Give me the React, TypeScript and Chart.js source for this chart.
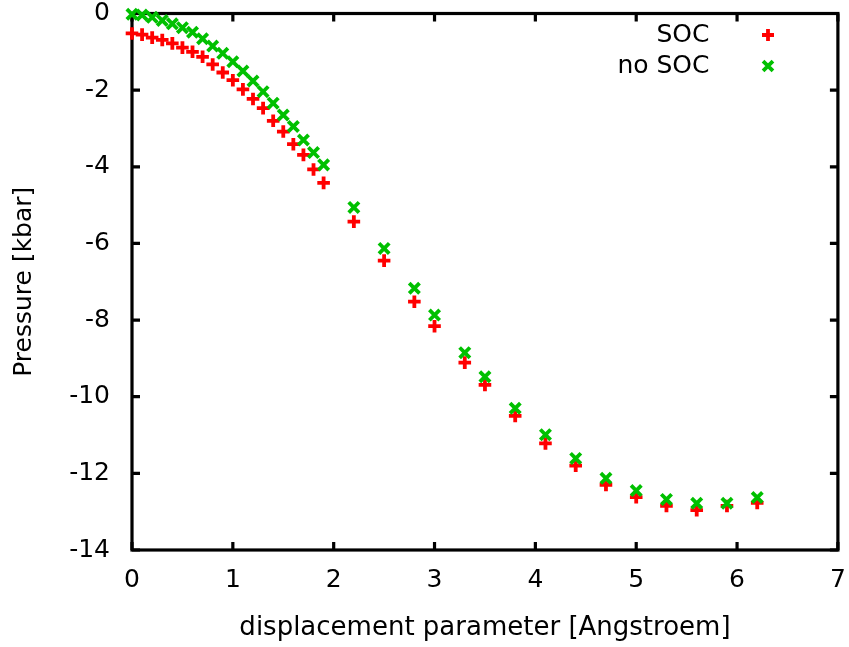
import { useEffect, useRef } from 'react';
import { Chart, registerables } from 'chart.js';

Chart.register(...registerables);

const displacement = [
  0, 0.1, 0.2, 0.3, 0.4, 0.5, 0.6, 0.7, 0.8, 0.9,
  1.0, 1.1, 1.2, 1.3, 1.4, 1.5, 1.6, 1.7, 1.8, 1.9,
  2.2, 2.5, 2.8, 3.0, 3.3, 3.5, 3.8, 4.1, 4.4, 4.7, 5.0, 5.3, 5.6, 5.9, 6.2,
];
const socPressure = [
  -0.52, -0.55, -0.63, -0.69, -0.78, -0.89, -1.0, -1.13, -1.33, -1.54,
  -1.74, -1.98, -2.23, -2.47, -2.8, -3.08, -3.41, -3.69, -4.07, -4.42,
  -5.43, -6.45, -7.52, -8.16, -9.11, -9.69, -10.5, -11.22, -11.8, -12.3, -12.62, -12.85, -12.96, -12.85, -12.77,
];
const noSocPressure = [
  -0.02, -0.04, -0.1, -0.18, -0.27, -0.37, -0.49, -0.66, -0.85, -1.04,
  -1.26, -1.5, -1.76, -2.04, -2.34, -2.65, -2.95, -3.3, -3.63, -3.95,
  -5.06, -6.13, -7.17, -7.87, -8.85, -9.48, -10.3, -10.99, -11.61, -12.13, -12.45, -12.68, -12.78, -12.78, -12.63,
];
const xTickValues = [0, 1, 2, 3, 4, 5, 6, 7];
const yTickValues = [-14, -12, -10, -8, -6, -4, -2, 0];
const seriesNames = ['SOC', 'no SOC'];
const xTitle = 'displacement parameter [Angstroem]';
const yTitle = 'Pressure [kbar]';

const RED = '#ff0000';
const GREEN = '#00c000';
const FONT = 'DejaVu Sans';
const FS = 25;

function drawMarker(ctx: CanvasRenderingContext2D, style: string, x: number, y: number, color: string) {
  ctx.save();
  ctx.strokeStyle = color;
  ctx.lineWidth = 3.8;
  ctx.beginPath();
  if (style === 'cross') {
    const r = 6;
    ctx.moveTo(x - r, y);
    ctx.lineTo(x + r, y);
    ctx.moveTo(x, y - r);
    ctx.lineTo(x, y + r);
  } else {
    const r = 7 * Math.SQRT1_2;
    ctx.moveTo(x - r, y - r);
    ctx.lineTo(x + r, y + r);
    ctx.moveTo(x + r, y - r);
    ctx.lineTo(x - r, y + r);
  }
  ctx.stroke();
  ctx.restore();
}

const framePlugin = {
  id: 'frame',
  beforeDatasetsDraw(chart: any) {
    const { ctx, chartArea: a, scales } = chart;
    ctx.save();
    ctx.strokeStyle = '#000';
    ctx.lineWidth = 3.2;
    ctx.strokeRect(a.left, a.top, a.right - a.left, a.bottom - a.top);
    const tl = 8;
    ctx.beginPath();
    xTickValues.forEach((v) => {
      const px = scales.x.getPixelForValue(v);
      ctx.moveTo(px, a.bottom);
      ctx.lineTo(px, a.bottom - tl);
      ctx.moveTo(px, a.top);
      ctx.lineTo(px, a.top + tl);
    });
    yTickValues.forEach((v) => {
      const py = scales.y.getPixelForValue(v);
      ctx.moveTo(a.left, py);
      ctx.lineTo(a.left + tl, py);
      ctx.moveTo(a.right, py);
      ctx.lineTo(a.right - tl, py);
    });
    ctx.stroke();
    ctx.restore();
  },
};

const legendPlugin = {
  id: 'gnuLegend',
  afterDraw(chart: any) {
    const { ctx } = chart;
    ctx.save();
    ctx.font = `${FS}px "${FONT}"`;
    ctx.fillStyle = '#000';
    ctx.textAlign = 'right';
    ctx.textBaseline = 'middle';
    const rows = [35, 66];
    const styles = ['cross', 'crossRot'];
    const colors = [RED, GREEN];
    seriesNames.forEach((name, i) => {
      ctx.fillText(name, 709.5, rows[i]);
      drawMarker(ctx, styles[i], 768, rows[i], colors[i]);
    });
    ctx.restore();
  },
};

export default function App() {
  const ref = useRef<HTMLCanvasElement>(null);
  useEffect(() => {
    const canvas = ref.current;
    if (!canvas) return;
    const chart = new Chart(canvas, {
      type: 'scatter',
      data: {
        datasets: [
          {
            label: seriesNames[0],
            data: displacement.map((x, i) => ({ x, y: socPressure[i] })),
            pointStyle: 'cross',
            pointRadius: 6.3,
            pointHoverRadius: 6.3,
            pointBorderWidth: 3.8,
            borderColor: RED,
            backgroundColor: RED,
            showLine: false,
            clip: false,
            order: 1,
          },
          {
            label: seriesNames[1],
            data: displacement.map((x, i) => ({ x, y: noSocPressure[i] })),
            pointStyle: 'crossRot',
            pointRadius: 7.3,
            pointHoverRadius: 7.3,
            pointBorderWidth: 3.8,
            borderColor: GREEN,
            backgroundColor: GREEN,
            showLine: false,
            clip: false,
            order: 0,
          },
        ],
      },
      options: {
        responsive: false,
        animation: false,
        devicePixelRatio: 1,
        layout: { padding: { top: 13.5, right: 6, left: 0, bottom: 0 } },
        plugins: {
          legend: { display: false },
          tooltip: { enabled: false },
        },
        scales: {
          x: {
            type: 'linear',
            min: 0,
            max: 7,
            grid: { display: false, drawTicks: false },
            border: { display: false },
            afterBuildTicks: (s: any) => { s.ticks = xTickValues.map((v) => ({ value: v })); },
            afterFit: (s: any) => {
              s.height = 97;
              s.paddingLeft = 0;
              s.paddingRight = 0;
              s.paddingTop = 0;
              s.paddingBottom = 0;
            },
            ticks: {
              color: '#000',
              font: { family: FONT, size: FS },
              padding: 15,
              maxRotation: 0,
              autoSkip: false,
            },
            title: {
              display: true,
              text: xTitle,
              color: '#000',
              font: { family: FONT, size: 26 },
              padding: { top: 0, bottom: 3.5 },
            },
          },
          y: {
            type: 'linear',
            min: -14,
            max: 0,
            grid: { display: false, drawTicks: false },
            border: { display: false },
            afterBuildTicks: (s: any) => { s.ticks = yTickValues.map((v) => ({ value: v })); },
            afterFit: (s: any) => {
              s.width = 132;
              s.paddingLeft = 0;
              s.paddingRight = 0;
              s.paddingTop = 0;
              s.paddingBottom = 0;
            },
            ticks: {
              color: '#000',
              font: { family: FONT, size: FS },
              padding: 22,
              autoSkip: false,
            },
            title: {
              display: true,
              text: yTitle,
              color: '#000',
              font: { family: FONT, size: FS },
              padding: { top: 9, bottom: 0 },
            },
          },
        },
      },
      plugins: [framePlugin, legendPlugin],
    });
    return () => chart.destroy();
  }, []);
  return (
    <div style={{ position: 'absolute', left: 0, top: 0, width: 849, height: 647, background: '#fff' }}>
      <canvas ref={ref} width={849} height={647} style={{ display: 'block' }} />
    </div>
  );
}
